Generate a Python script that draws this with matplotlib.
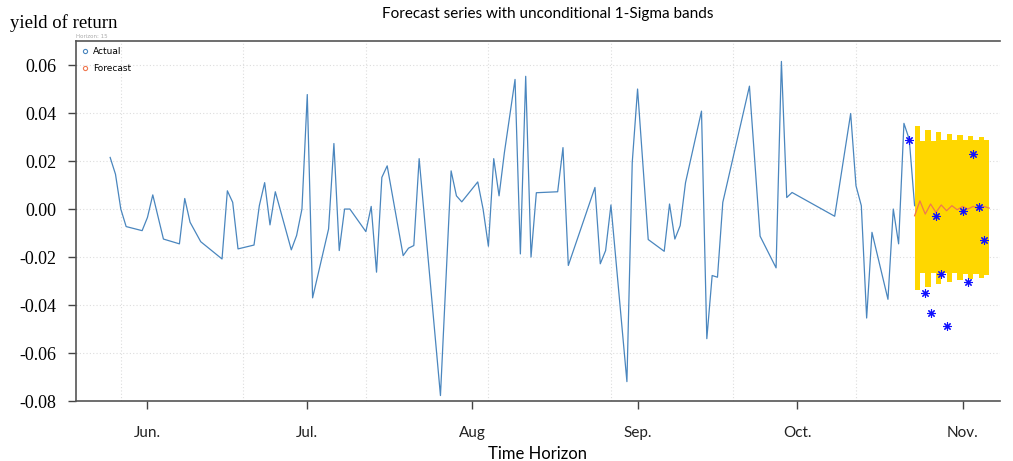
import pandas as pd
import numpy as np
import matplotlib
matplotlib.use("Agg")
import matplotlib.pyplot as plt
import matplotlib.dates as mdates

# daily returns (actual series)
actual_dates = ["2021-05-25", "2021-05-26", "2021-05-27", "2021-05-28", "2021-05-31",
                "2021-06-01", "2021-06-02", "2021-06-04", "2021-06-07", "2021-06-08",
                "2021-06-09", "2021-06-11", "2021-06-15", "2021-06-16", "2021-06-17",
                "2021-06-18", "2021-06-21", "2021-06-22", "2021-06-23", "2021-06-24",
                "2021-06-25", "2021-06-28", "2021-06-29", "2021-06-30", "2021-07-01",
                "2021-07-02", "2021-07-05", "2021-07-06", "2021-07-07", "2021-07-08",
                "2021-07-09", "2021-07-12", "2021-07-13", "2021-07-14", "2021-07-15",
                "2021-07-16", "2021-07-19", "2021-07-20", "2021-07-21", "2021-07-22",
                "2021-07-26", "2021-07-28", "2021-07-29", "2021-07-30", "2021-08-02",
                "2021-08-03", "2021-08-04", "2021-08-05", "2021-08-06", "2021-08-07",
                "2021-08-09", "2021-08-10", "2021-08-11", "2021-08-12", "2021-08-13",
                "2021-08-17", "2021-08-18", "2021-08-19", "2021-08-24", "2021-08-25",
                "2021-08-26", "2021-08-27", "2021-08-30", "2021-08-31", "2021-09-01",
                "2021-09-03", "2021-09-06", "2021-09-07", "2021-09-08", "2021-09-09",
                "2021-09-10", "2021-09-13", "2021-09-14", "2021-09-15", "2021-09-16",
                "2021-09-17", "2021-09-22", "2021-09-24", "2021-09-27", "2021-09-28",
                "2021-09-29", "2021-09-30", "2021-10-08", "2021-10-11", "2021-10-12",
                "2021-10-13", "2021-10-14", "2021-10-15", "2021-10-18", "2021-10-19",
                "2021-10-20", "2021-10-21", "2021-10-22", "2021-10-23"]
actual_values = [0.0215, 0.0145, 0.0000, -0.0073, -0.0090,
                 -0.0035, 0.0059, -0.0125, -0.0145, 0.0044,
                 -0.0055, -0.0136, -0.0208, 0.0076, 0.0028,
                 -0.0166, -0.0150, 0.0014, 0.0110, -0.0066,
                 0.0072, -0.0170, -0.0110, 0.0000, 0.0477,
                 -0.0370, -0.0083, 0.0273, -0.0173, 0.0000,
                 0.0000, -0.0094, 0.0011, -0.0263, 0.0132,
                 0.0180, -0.0194, -0.0163, -0.0152, 0.0210,
                 -0.0777, 0.0159, 0.0055, 0.0030, 0.0113,
                 0.0000, -0.0155, 0.0210, 0.0055, 0.0235,
                 0.0540, -0.0187, 0.0553, -0.0200, 0.0068,
                 0.0072, 0.0256, -0.0235, 0.0090, -0.0228,
                 -0.0173, 0.0017, -0.0719, 0.0194, 0.0500,
                 -0.0127, -0.0176, 0.0021, -0.0125, -0.0069,
                 0.0110, 0.0408, -0.0540, -0.0277, -0.0284,
                 0.0028, 0.0512, -0.0113, -0.0245, 0.0615,
                 0.0048, 0.0069, -0.0030, 0.0398, 0.0097,
                 0.0014, -0.0454, -0.0097, -0.0376, 0.0000,
                 -0.0145, 0.0357, 0.0290, 0.0014]

# 15-step forecast and 1-sigma band
fc_dates = pd.date_range("2021-10-23", periods=15, freq="D")
fc_mean = [-0.0028, 0.0034, -0.0021, 0.0021, -0.0014, 0.0017, -0.0007, 0.0014,
           -0.0003, 0.0011, 0.0000, 0.0011, 0.0003, 0.0011, 0.0004]
fc_upper = [0.0346, 0.0284, 0.0329, 0.0284, 0.0322, 0.0288, 0.0314, 0.0288,
            0.0310, 0.0288, 0.0304, 0.0288, 0.0300, 0.0288, 0.0288]
fc_lower = [-0.0336, -0.0266, -0.0325, -0.0266, -0.0311, -0.0266, -0.0302, -0.0266,
            -0.0295, -0.0270, -0.0290, -0.0270, -0.0286, -0.0274, -0.0274]

# realised values over the forecast window
real_dates = ["2021-10-22", "2021-10-25", "2021-10-26", "2021-10-27", "2021-10-28",
              "2021-10-29", "2021-11-01", "2021-11-02", "2021-11-03", "2021-11-04",
              "2021-11-05"]
real_values = [0.0287, -0.0349, -0.0432, -0.0028, -0.0270,
               -0.0488, -0.0010, -0.0302, 0.0231, 0.0007, -0.0131]

month_ticks = ["2021-06-01", "2021-07-01", "2021-08-01", "2021-09-01", "2021-10-01", "2021-11-01"]
month_labels = ["Jun.", "Jul.", "Aug", "Sep.", "Oct.", "Nov."]
grid_dates = ["2021-05-27", "2021-06-19", "2021-07-12", "2021-08-04", "2021-08-27",
              "2021-09-19", "2021-10-12"]
y_ticks = [0.06, 0.04, 0.02, 0.00, -0.02, -0.04, -0.06, -0.08]

fig = plt.figure(figsize=(10.13, 4.61), dpi=100)
ax = fig.add_axes([0.075, 0.130, 0.912, 0.781])

x_act = pd.to_datetime(actual_dates)
x_real = pd.to_datetime(real_dates)

ax.fill_between(fc_dates, fc_lower, fc_upper, step="post", color="#FFD700", lw=0, zorder=2)
ax.plot(x_act, actual_values, color="#4A86BE", lw=0.9, zorder=3)
ax.plot(fc_dates, fc_mean, color="#F07850", lw=0.9, zorder=4)
ax.plot(x_real, real_values, ls="none", marker=(8, 2, 0), ms=6, mew=0.8,
        color="#1010FF", zorder=5)

ax.set_ylim(-0.08, 0.07)
ax.set_xlim(pd.Timestamp("2021-05-18 14:00"), pd.Timestamp("2021-11-08"))

# grid
for g in pd.to_datetime(grid_dates):
    ax.axvline(g, color="#dddddd", lw=0.8, ls=(0, (1, 2)), zorder=1)
for v in y_ticks[:-1]:
    ax.axhline(v, color="#dddddd", lw=0.8, ls=(0, (1, 2)), zorder=1)

ax.set_yticks(y_ticks)
ax.set_yticklabels([f"{v:.2f}" for v in y_ticks], family="Liberation Serif", fontsize=13)
ax.set_xticks(pd.to_datetime(month_ticks))
ax.set_xticklabels(month_labels, family="Lato", fontsize=11, color="#222222")
ax.tick_params(axis="x", length=6, width=1, color="#444444", pad=12)
ax.tick_params(axis="y", length=6, width=1, color="#444444", pad=8)

for s in ["top", "left", "bottom"]:
    ax.spines[s].set_color("#555555")
    ax.spines[s].set_linewidth(1.2)
ax.spines["right"].set_visible(False)

# legend
ax.plot([], [], ls="none", marker="o", mfc="none", mec="#4A86BE", ms=3, mew=0.8, label="Actual")
ax.plot([], [], ls="none", marker="o", mfc="none", mec="#F07850", ms=3, mew=0.8, label="Forecast")
leg = ax.legend(loc="upper left", frameon=False, fontsize=6.5, handlelength=0.6,
                handletextpad=0.6, borderaxespad=0.3, labelspacing=0.9)

fig.text(0.075, 0.918, "Horizon: 15", fontsize=4, color="#aaaaaa")
fig.text(0.010, 0.940, "yield of return", family="Liberation Serif", fontsize=13.5)
fig.suptitle("Forecast series with unconditional 1-Sigma bands", x=0.541, y=0.985,
             family="Lato", fontsize=11)
fig.text(0.531, 0.005, "Time Horizon", family="Lato", fontsize=12, ha="center")

plt.savefig("out.png", dpi=100)
